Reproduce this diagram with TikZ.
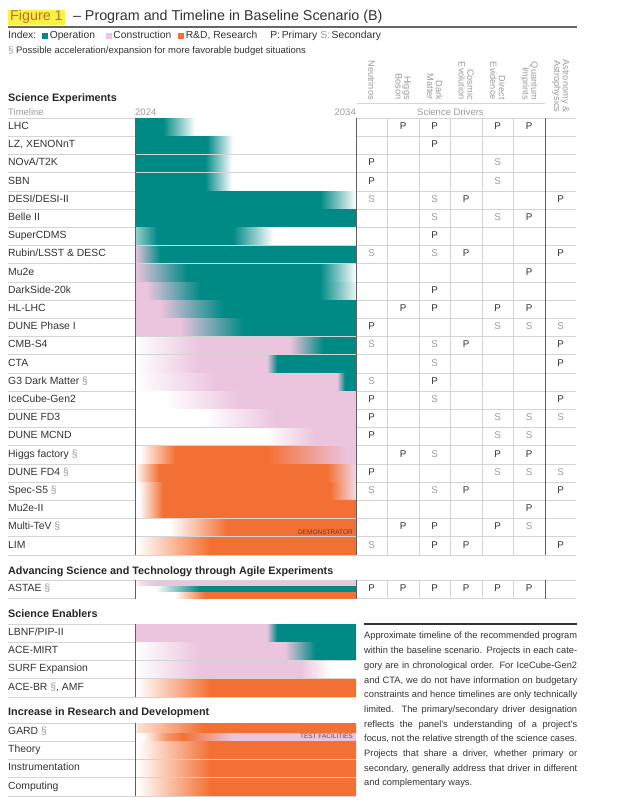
\documentclass[tikz,border=0pt]{standalone}
\usepackage{fontspec}
\setmainfont{Liberation Sans}
\usetikzlibrary{positioning}

\definecolor{operation}{RGB}{0,138,134}
\definecolor{construction}{RGB}{235,196,222}
\definecolor{research}{RGB}{243,112,52}
\definecolor{ink}{RGB}{50,50,50}
\definecolor{faint}{RGB}{155,155,155}
\definecolor{gridgrey}{RGB}{212,212,212}
\definecolor{axisgrey}{RGB}{95,95,95}
\definecolor{tagyellow}{RGB}{247,242,70}
\definecolor{tagorange}{RGB}{205,105,40}
\definecolor{stamp}{RGB}{120,50,40}

\newcommand{\optsym}{\textcolor{faint}{\S}}
\newcommand{\swatch}[1]{\textcolor{#1}{\rule{6pt}{6pt}}\hspace{1.5pt}}
\newcommand{\timebar}[2]{\pgfdeclarehorizontalshading{bar#1}{16.8pt}{#2}}

% one shading per timeline bar (positions in px from 2024)
\timebar{LHC}{color(0pt)=(operation); color(28pt)=(operation); color(60pt)=(white); color(221pt)=(white)}
\timebar{LZ}{color(0pt)=(operation); color(72pt)=(operation); color(98pt)=(white); color(221pt)=(white)}
\timebar{NOvA}{color(0pt)=(operation); color(70pt)=(operation); color(97pt)=(white); color(221pt)=(white)}
\timebar{SBN}{color(0pt)=(operation); color(70pt)=(operation); color(97pt)=(white); color(221pt)=(white)}
\timebar{DESI}{color(0pt)=(operation); color(185pt)=(operation); color(221pt)=(white)}
\timebar{Belle}{color(0pt)=(operation); color(221pt)=(operation)}
\timebar{CDMS}{color(0pt)=(operation!40); color(22pt)=(operation); color(98pt)=(operation); color(138pt)=(white); color(221pt)=(white)}
\timebar{Rubin}{color(0pt)=(construction); color(25pt)=(operation); color(221pt)=(operation)}
\timebar{Mutwo}{color(0pt)=(construction); color(52pt)=(operation); color(185pt)=(operation); color(221pt)=(white)}
\timebar{DarkSide}{color(0pt)=(construction); color(12pt)=(construction); color(65pt)=(operation); color(185pt)=(operation); color(221pt)=(operation!8)}
\timebar{HLLHC}{color(0pt)=(construction); color(25pt)=(construction); color(88pt)=(operation); color(221pt)=(operation)}
\timebar{DUNEone}{color(0pt)=(construction); color(45pt)=(construction); color(108pt)=(operation); color(221pt)=(operation)}
\timebar{CMB}{color(0pt)=(white); color(65pt)=(construction); color(155pt)=(construction); color(188pt)=(operation); color(221pt)=(operation)}
\timebar{CTA}{color(0pt)=(white); color(65pt)=(construction); color(132pt)=(construction); color(142pt)=(operation); color(221pt)=(operation)}
\timebar{Gthree}{color(0pt)=(white); color(82pt)=(construction); color(202pt)=(construction); color(210pt)=(operation); color(221pt)=(operation)}
\timebar{IceCube}{color(0pt)=(white); color(30pt)=(white); color(105pt)=(construction); color(221pt)=(construction)}
\timebar{FDthree}{color(0pt)=(white); color(70pt)=(white); color(140pt)=(construction); color(221pt)=(construction)}
\timebar{MCND}{color(0pt)=(white); color(130pt)=(white); color(180pt)=(construction); color(221pt)=(construction)}
\timebar{Higgs}{color(0pt)=(white); color(5pt)=(white); color(40pt)=(research); color(132pt)=(research); color(212pt)=(construction); color(221pt)=(construction)}
\timebar{FDfour}{color(0pt)=(white); color(24pt)=(research); color(192pt)=(research); color(221pt)=(construction!70)}
\timebar{SpecS}{color(0pt)=(white); color(4pt)=(white); color(28pt)=(research); color(195pt)=(research); color(221pt)=(construction!60)}
\timebar{MuII}{color(0pt)=(white); color(4pt)=(white); color(28pt)=(research); color(221pt)=(research)}
\timebar{MultiTeV}{color(0pt)=(white); color(35pt)=(white); color(92pt)=(research); color(221pt)=(research)}
\timebar{LIM}{color(0pt)=(white); color(2pt)=(white); color(75pt)=(research); color(221pt)=(research)}
\timebar{LBNF}{color(0pt)=(construction); color(132pt)=(construction); color(142pt)=(operation); color(221pt)=(operation)}
\timebar{MIRT}{color(0pt)=(white); color(65pt)=(construction); color(150pt)=(construction); color(180pt)=(operation); color(221pt)=(operation)}
\timebar{SURF}{color(0pt)=(white); color(65pt)=(construction); color(165pt)=(construction); color(195pt)=(white); color(221pt)=(white)}
\timebar{ACEBR}{color(0pt)=(white); color(2pt)=(white); color(75pt)=(research); color(221pt)=(research)}
\timebar{Research}{color(0pt)=(white); color(2pt)=(white); color(75pt)=(research); color(221pt)=(research)}
% split bars
\pgfdeclarehorizontalshading{stripAstaeC}{5.4pt}{color(0pt)=(white); color(4pt)=(construction!50); color(20pt)=(construction); color(221pt)=(construction)}
\pgfdeclarehorizontalshading{stripAstaeO}{6.4pt}{color(0pt)=(white); color(20pt)=(white); color(65pt)=(operation); color(221pt)=(operation)}
\pgfdeclarehorizontalshading{stripAstaeR}{5.4pt}{color(0pt)=(white); color(40pt)=(white); color(70pt)=(research); color(221pt)=(research)}
\pgfdeclarehorizontalshading{stripGardTop}{9.5pt}{color(0pt)=(white); color(2pt)=(research!20); color(68pt)=(research); color(221pt)=(research)}
\pgfdeclarehorizontalshading{stripGardLow}{7.8pt}{color(0pt)=(white); color(8pt)=(white); color(30pt)=(research!70); color(48pt)=(research); color(98pt)=(construction); color(221pt)=(construction)}

\tikzset{
  figtag/.style={fill=tagyellow,text=tagorange,font=\fontsize{14.3}{16}\selectfont,
                 inner xsep=2pt,inner ysep=1pt,text height=10pt,text depth=3pt},
  figtitle/.style={text=ink,font=\fontsize{14.3}{16}\selectfont,inner sep=0pt,
                   text height=10pt,text depth=3pt},
  legendtext/.style={anchor=base west,inner sep=0pt,text=ink,font=\fontsize{10.3}{12}\selectfont},
  sectionhead/.style={anchor=base west,inner sep=0pt,text=black!85,
                      font=\bfseries\fontsize{10.8}{12}\selectfont},
  axislabel/.style={inner sep=0pt,text=faint,font=\fontsize{9.5}{11}\selectfont},
  rowlabel/.style={anchor=base west,inner sep=0pt,text=ink,font=\fontsize{10.4}{12}\selectfont},
  barbox/.style={anchor=west,inner sep=0pt,outer sep=0pt},
  stripbox/.style={anchor=north west,inner sep=0pt,outer sep=0pt},
  primary/.style={anchor=base,inner sep=0pt,text=ink,font=\fontsize{9.8}{11}\selectfont},
  secondary/.style={primary,text=faint},
  driverhead/.style={rotate=-90,anchor=east,align=right,inner sep=0pt,text=faint,
                     font=\fontsize{9.2}{8.6}\selectfont},
  stamptext/.style={anchor=base east,inner sep=0pt,text=stamp,font=\fontsize{6.5}{7}\selectfont},
  gridline/.style={draw=gridgrey,line width=0.6pt},
  axisline/.style={draw=axisgrey,line width=0.9pt},
  titlerule/.style={draw=black!60,line width=1.8pt},
  noterule/.style={draw=ink,line width=1.1pt},
  notetext/.style={anchor=north west,inner sep=0pt,text width=213pt,align=justify,
                   text=ink,font=\fontsize{9.3}{14.7}\selectfont},
}

\begin{document}
\begin{tikzpicture}[x=1pt,y=-1pt]
  \useasboundingbox (0,0) rectangle (617,803);

  % title and index
  \node[figtag,anchor=west] (fig) at (8,17) {Figure 1};
  \node[figtitle] (title) [right=8pt of fig] {– Program and Timeline in Baseline Scenario (B)};
  \draw[titlerule] (8,27) -- (577,27);
  \node[legendtext] (index) at (8,38.5)
    {Index:\hspace{6pt}\swatch{operation}Operation\hspace{11pt}\swatch{construction}Construction\hspace{7pt}\swatch{research}R\&D, Research\hspace{13pt}P:\,Primary\hspace{3pt}\textcolor{faint}{S:}\,Secondary};
  \node[legendtext,font=\fontsize{9.5}{11}\selectfont] (budget) at (8,53)
    {\optsym{} Possible acceleration/expansion for more favorable budget situations};

  % science drivers header
  \foreach \h [count=\j] in {Neutrinos,{Higgs\\Boson},{Dark\\Matter},{Cosmic\\Evolution},
                             {Direct\\Evidence},{Quantum\\Imprints}}
    \node[driverhead] (head\j) at (340.25+31.5*\j,100) {\h};
  \node[driverhead] (head7) at (560.75,112.5) {Astronomy \&\\Astrophysics};
  \draw[gridline] (357,103) -- (545,103);
  \node[axislabel,anchor=base] (drivers) at (450.5,115) {Science Drivers};

  % science experiments
  \node[sectionhead] (sci) at (8,101.5) {Science Experiments};
  \node[axislabel,anchor=base west] (tl) at (8,115) {Timeline};
  \node[axislabel,anchor=base west] (ystart) at (135,115) {2024};
  \node[axislabel,anchor=base east] (yend) at (356,115) {2034};
  \foreach \k in {0,...,24}
    \draw[gridline] (8,118+18.2*\k) -- (576,118+18.2*\k);
  \foreach \key/\lbl/\drv [count=\i] in {
      LHC/LHC/{-,P,P,-,P,P,-},
      LZ/{LZ, XENONnT}/{-,-,P,-,-,-,-},
      NOvA/{NOvA/T2K}/{P,-,-,-,S,-,-},
      SBN/SBN/{P,-,-,-,S,-,-},
      DESI/{DESI/DESI-II}/{S,-,S,P,-,-,P},
      Belle/Belle II/{-,-,S,-,S,P,-},
      CDMS/SuperCDMS/{-,-,P,-,-,-,-},
      Rubin/{Rubin/LSST \& DESC}/{S,-,S,P,-,-,P},
      Mutwo/Mu2e/{-,-,-,-,-,P,-},
      DarkSide/DarkSide-20k/{-,-,P,-,-,-,-},
      HLLHC/HL-LHC/{-,P,P,-,P,P,-},
      DUNEone/DUNE Phase I/{P,-,-,-,S,S,S},
      CMB/CMB-S4/{S,-,S,P,-,-,P},
      CTA/CTA/{-,-,S,-,-,-,P},
      Gthree/G3 Dark Matter \optsym/{S,-,P,-,-,-,-},
      IceCube/IceCube-Gen2/{P,-,S,-,-,-,P},
      FDthree/DUNE FD3/{P,-,-,-,S,S,S},
      MCND/DUNE MCND/{P,-,-,-,S,S,-},
      Higgs/Higgs factory \optsym/{-,P,S,-,P,P,-},
      FDfour/DUNE FD4 \optsym/{P,-,-,-,S,S,S},
      SpecS/Spec-S5 \optsym/{S,-,S,P,-,-,P},
      MuII/Mu2e-II/{-,-,-,-,-,P,-},
      MultiTeV/Multi-TeV \optsym/{-,P,P,-,P,S,-},
      LIM/LIM/{S,-,P,P,-,-,P}} {
    \pgfmathsetmacro{\yc}{127.1+18.2*(\i-1)}
    \node[barbox] (bar\key) at (135,\yc) {\pgfuseshading{bar\key}};
    \node[rowlabel] (row\key) at (8,\yc+2.4) {\lbl};
    \foreach \dv [count=\j] in \drv {
      \if P\dv \node[primary] at (340.25+31.5*\j,\yc+2.4) {P};\fi
      \if S\dv \node[secondary] at (340.25+31.5*\j,\yc+2.4) {S};\fi
    }
  }
  \node[stamptext] (demo) at (353,534.3) {DEMONSTRATOR};
  \foreach \x in {135,356,545}
    \draw[axisline] (\x,118) -- (\x,554.8);
  \foreach \x in {387.5,419,450.5,482,513.5}
    \draw[gridline] (\x,118) -- (\x,554.8);

  % agile experiments
  \node[sectionhead] (agile) at (8,574) {Advancing Science and Technology through Agile Experiments};
  \draw[gridline] (8,580.4) -- (576,580.4);
  \draw[gridline] (8,598.6) -- (576,598.6);
  \node[stripbox] (astaeC) at (135,581) {\pgfuseshading{stripAstaeC}};
  \node[stripbox] (astaeO) at (135,586.4) {\pgfuseshading{stripAstaeO}};
  \node[stripbox] (astaeR) at (135,592.8) {\pgfuseshading{stripAstaeR}};
  \node[rowlabel] (rowASTAE) at (8,591.9) {ASTAE \optsym};
  \foreach \j in {1,...,6}
    \node[primary] at (340.25+31.5*\j,591.9) {P};
  \foreach \x in {135,356,545}
    \draw[axisline] (\x,580.4) -- (\x,598.6);
  \foreach \x in {387.5,419,450.5,482,513.5}
    \draw[gridline] (\x,580.4) -- (\x,598.6);

  % science enablers
  \node[sectionhead] (enablers) at (8,617.5) {Science Enablers};
  \foreach \k in {0,...,4}
    \draw[gridline] (8,624+18.2*\k) -- (356,624+18.2*\k);
  \foreach \key/\lbl [count=\i] in {LBNF/{LBNF/PIP-II},MIRT/ACE-MIRT,
                                    SURF/SURF Expansion,ACEBR/{ACE-BR \optsym, AMF}} {
    \pgfmathsetmacro{\yc}{633.1+18.2*(\i-1)}
    \node[barbox] (bar\key) at (135,\yc) {\pgfuseshading{bar\key}};
    \node[rowlabel] (row\key) at (8,\yc+2.4) {\lbl};
  }
  \draw[axisline] (135,624) -- (135,696.8);

  % research and development
  \node[sectionhead] (rnd) at (8,715.5) {Increase in Research and Development};
  \foreach \k in {0,...,4}
    \draw[gridline] (8,723+18.2*\k) -- (356,723+18.2*\k);
  \node[stripbox] (gardTop) at (135,723.5) {\pgfuseshading{stripGardTop}};
  \node[stripbox] (gardLow) at (135,733) {\pgfuseshading{stripGardLow}};
  \node[stamptext,text=ink!85] (testfac) at (353,738.6) {TEST FACILITIES};
  \node[rowlabel] (rowGARD) at (8,734.5) {GARD \optsym};
  \foreach \lbl [count=\i] in {Theory,Instrumentation,Computing} {
    \pgfmathsetmacro{\yc}{750.3+18.2*(\i-1)}
    \node[barbox] (rd\i) at (135,\yc) {\pgfuseshading{barResearch}};
    \node[rowlabel] (rdrow\i) at (8,\yc+2.4) {\lbl};
  }
  \draw[axisline] (135,723) -- (135,795.8);

  % caption
  \draw[noterule] (364,624) -- (577,624);
  \node[notetext] (note) at (364,632)
    {Approximate timeline of the recommended program\linebreak
     within the baseline scenario. Projects in each cate-\linebreak
     gory are in chronological order. For IceCube-Gen2\linebreak
     and CTA, we do not have information on budgetary\linebreak
     constraints and hence timelines are only technically\linebreak
     limited. The primary/secondary driver designation\linebreak
     reflects the panel’s understanding of a project’s\linebreak
     focus, not the relative strength of the science cases.\linebreak
     Projects that share a driver, whether primary or\linebreak
     secondary, generally address that driver in different\linebreak
     and complementary ways.};
\end{tikzpicture}
\end{document}
